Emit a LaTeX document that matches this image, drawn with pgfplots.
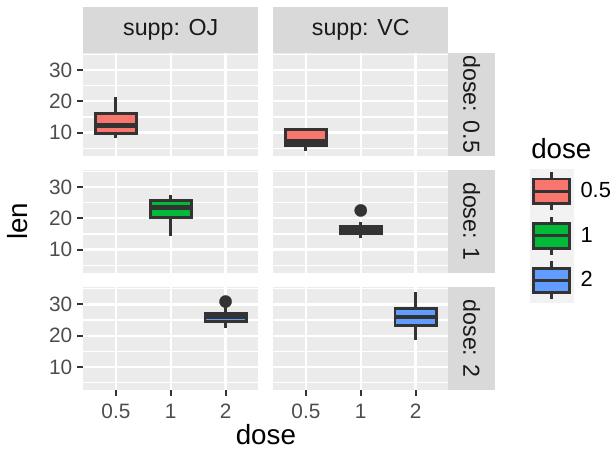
\documentclass[border=0pt]{standalone}
\usepackage{fontspec}
\setmainfont{Liberation Sans}
\usepackage{pgfplots}
\pgfplotsset{compat=1.18}

\definecolor{panelbg}{HTML}{EBEBEB}
\definecolor{stripbg}{HTML}{D9D9D9}
\definecolor{keybg}{HTML}{F2F2F2}
\definecolor{boxline}{HTML}{333333}
\definecolor{ticklab}{HTML}{4D4D4D}
\definecolor{striptext}{HTML}{1A1A1A}
\definecolor{c05}{HTML}{F8766D}
\definecolor{c1}{HTML}{00BA38}
\definecolor{c2}{HTML}{619CFF}

\newcommand{\tickfont}{\fontsize{15.6}{18}\selectfont}
\newcommand{\stripfont}{\fontsize{17.4}{20}\selectfont}
\newcommand{\titlefont}{\fontsize{20.8}{24}\selectfont}

\pgfplotsset{
  panel/.style={
    scale only axis, width=131.6pt, height=76.9pt, anchor=north west,
    xmin=0.4, xmax=3.6, ymin=2.715, ymax=35.385,
    axis background/.style={fill=panelbg},
    axis line style={draw=none},
    xtick={1,2,3}, ytick={10,20,30}, minor ytick={5,15,25,35},
    xticklabels={}, yticklabels={},
    xtick pos=bottom, ytick pos=left,
    grid=both,
    major grid style={draw=white, line width=1.8pt},
    minor grid style={draw=white, line width=0.9pt},
    tick align=outside, major tick length=4.5pt, minor tick length=0pt,
    tick style={draw=none},
    /pgf/number format/assume math mode=true,
    ticklabel style={font=\tickfont, text=ticklab},
    xticklabel style={yshift=-2.5pt},
  },
  leftcol/.style={yticklabels={10,20,30}, ytick style={draw=boxline, line width=1.5pt}},
  bottomrow/.style={xticklabels={0.5,1,2}, xtick style={draw=boxline, line width=1.5pt}},
  whisk/.style={forget plot, draw=boxline, line width=2.2pt},
  box/.style={forget plot, draw=boxline, line width=2.2pt, fill=#1},
  med/.style={forget plot, draw=boxline, line width=3.4pt},
  outl/.style={forget plot, only marks, mark=*, mark size=4.6pt,
    mark options={fill=boxline, draw=boxline, line width=0.2pt}},
  boxkey/.style={legend image code/.code={
    \fill[keybg] (0pt,-16.5pt) rectangle (32.25pt,16.5pt);
    \draw[boxline, line width=2.2pt] (16.1pt,-14.2pt) -- (16.1pt,14.2pt);
    \filldraw[draw=boxline, line width=2.2pt] (2.6pt,-9.2pt) rectangle (29.6pt,9.2pt);
    \draw[boxline, line width=2.4pt] (2.6pt,0pt) -- (29.6pt,0pt);
  }},
}

\begin{document}
\begin{tikzpicture}
\path[use as bounding box] (0pt,0pt) rectangle (460.5pt,342pt);

% row 1: dose 0.5
\begin{axis}[panel, leftcol, at={(62.25pt,302.25pt)}]
% OJ, dose 0.5
\addplot[whisk] coordinates {(1,8.2) (1,21.5)};
\addplot[box=c05] coordinates {(0.625,9.7) (1.375,9.7) (1.375,16.175) (0.625,16.175)} -- cycle;
\addplot[med] coordinates {(0.625,12.25) (1.375,12.25)};
\end{axis}
\begin{axis}[panel, at={(204.75pt,302.25pt)}]
% VC, dose 0.5
\addplot[whisk] coordinates {(1,4.2) (1,11.5)};
\addplot[box=c05] coordinates {(0.625,5.95) (1.375,5.95) (1.375,10.9) (0.625,10.9)} -- cycle;
\addplot[med] coordinates {(0.625,7.15) (1.375,7.15)};
\end{axis}

% row 2: dose 1
\begin{axis}[panel, leftcol, at={(62.25pt,214.5pt)}]
% OJ, dose 1
\addplot[whisk] coordinates {(2,14.5) (2,27.3)};
\addplot[box=c1] coordinates {(1.625,20.3) (2.375,20.3) (2.375,25.65) (1.625,25.65)} -- cycle;
\addplot[med] coordinates {(1.625,23.45) (2.375,23.45)};
\end{axis}
\begin{axis}[panel, at={(204.75pt,214.5pt)},
  legend style={at={(1.4647,1.0098)}, anchor=north west, draw=none, fill=none,
    inner sep=0pt, outer sep=0pt, row sep=0pt, font=\fontsize{16.4}{19}\selectfont,
    nodes={inner sep=0pt}, /tikz/every odd column/.style={column sep=5.25pt}},
  legend cell align=left]
\addlegendimage{boxkey, fill=c05}\addlegendentry{0.5}
\addlegendimage{boxkey, fill=c1}\addlegendentry{1}
\addlegendimage{boxkey, fill=c2}\addlegendentry{2}
% VC, dose 1
\addplot[whisk] coordinates {(2,13.6) (2,18.8)};
\addplot[box=c1] coordinates {(1.625,15.275) (2.375,15.275) (2.375,17.3) (1.625,17.3)} -- cycle;
\addplot[med] coordinates {(1.625,16.5) (2.375,16.5)};
\addplot[outl] coordinates {(2,22.5)};
\end{axis}

% row 3: dose 2
\begin{axis}[panel, leftcol, bottomrow, at={(62.25pt,126.4pt)}]
% OJ, dose 2
\addplot[whisk] coordinates {(3,22.4) (3,29.4)};
\addplot[box=c2] coordinates {(2.625,24.575) (3.375,24.575) (3.375,27.075) (2.625,27.075)} -- cycle;
\addplot[med] coordinates {(2.625,25.95) (3.375,25.95)};
\addplot[outl] coordinates {(3,30.9)};
\end{axis}
\begin{axis}[panel, bottomrow, at={(204.75pt,126.4pt)}]
% VC, dose 2
\addplot[whisk] coordinates {(3,18.5) (3,33.9)};
\addplot[box=c2] coordinates {(2.625,23.375) (3.375,23.375) (3.375,28.8) (2.625,28.8)} -- cycle;
\addplot[med] coordinates {(2.625,25.95) (3.375,25.95)};
\end{axis}

% facet strips
\fill[stripbg] (62.25pt,302.25pt) rectangle (193.85pt,336.75pt);
\fill[stripbg] (204.75pt,302.25pt) rectangle (336.35pt,336.75pt);
\node[font=\stripfont, text=striptext] at (128.05pt,319.5pt) {supp: OJ};
\node[font=\stripfont, text=striptext] at (270.55pt,319.5pt) {supp: VC};
\fill[stripbg] (336.35pt,225.35pt) rectangle (371.25pt,302.25pt);
\fill[stripbg] (336.35pt,137.6pt) rectangle (371.25pt,214.5pt);
\fill[stripbg] (336.35pt,49.5pt) rectangle (371.25pt,126.4pt);
\node[font=\stripfont, text=striptext, rotate=-90] at (353.8pt,263.8pt) {dose: 0.5};
\node[font=\stripfont, text=striptext, rotate=-90] at (353.8pt,176.05pt) {dose: 1};
\node[font=\stripfont, text=striptext, rotate=-90] at (353.8pt,87.95pt) {dose: 2};

% axis titles and legend title
\node[font=\titlefont, rotate=90] at (13.1pt,175.9pt) {len};
\node[font=\titlefont] at (199.4pt,16.1pt) {dose};
\node[font=\titlefont, anchor=west, inner sep=0pt] at (398.25pt,230.25pt) {dose};
\end{tikzpicture}
\end{document}
